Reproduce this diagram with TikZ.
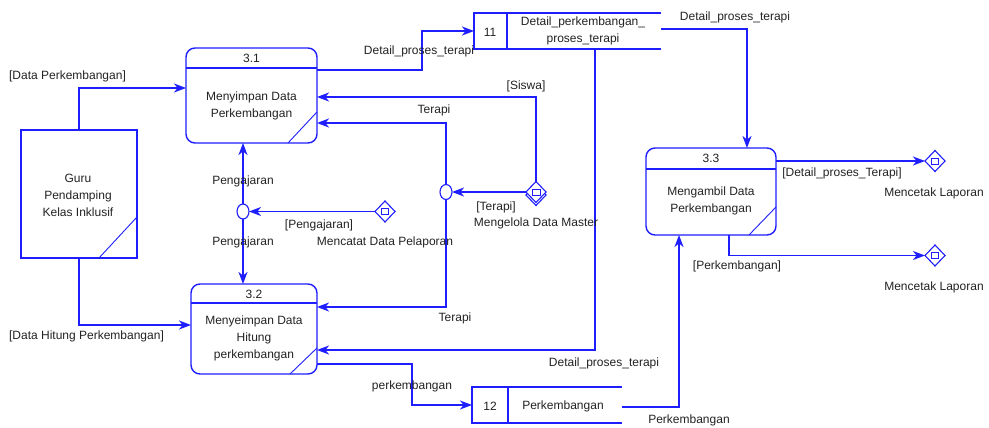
\documentclass[tikz,border=0pt]{standalone}
\usepackage{fontspec}
\setmainfont{Liberation Sans}
\usetikzlibrary{arrows.meta,shapes.geometric,calc}

\definecolor{dfdblue}{RGB}{30,30,255}
\definecolor{dfdtext}{RGB}{35,35,35}

\begin{document}
\begin{tikzpicture}[x=1pt,y=-1pt,
  bline/.style={draw=dfdblue,line width=1.4pt},
  thinline/.style={draw=dfdblue,line width=0.9pt},
  flow/.style={bline,-{Stealth[length=12pt,width=9pt,inset=3.5pt]}},
  proc/.style={rectangle,draw=dfdblue,line width=1.4pt,rounded corners=9pt,inner sep=0pt,outer sep=0pt},
  extent/.style={rectangle,draw=dfdblue,line width=1.4pt,inner sep=0pt,outer sep=0pt},
  storebox/.style={rectangle,draw=none,inner sep=0pt,outer sep=0pt},
  junc/.style={ellipse,draw=dfdblue,line width=1.1pt,fill=white,minimum width=12pt,minimum height=15pt,inner sep=0pt,outer sep=0pt},
  evt/.style={diamond,draw=dfdblue,line width=1.1pt,fill=white,minimum width=20pt,minimum height=21pt,inner sep=0pt,outer sep=0pt},
  evtbox/.style={rectangle,draw=dfdblue,line width=1pt,minimum width=7pt,minimum height=6pt,inner sep=0pt},
  lbl/.style={text=dfdtext,font=\fontsize{12}{17}\selectfont,inner sep=0pt,align=center}]

\useasboundingbox[fill=white] (0,0) rectangle (989,428);

% external entity
\node[extent,minimum width=116pt,minimum height=128pt] (guru) at (79,194) {};
\draw[thinline] ([xshift=-38pt]guru.south east) -- ([yshift=41pt]guru.south east);
\node[lbl] (gurut) at (78,195) {Guru\\Pendamping\\Kelas Inklusif};

% process 3.1
\node[proc,minimum width=131pt,minimum height=95pt] (p31) at (251.5,95.5) {};
\draw[bline] ([yshift=-20pt]p31.north west) -- ([yshift=-20pt]p31.north east);
\draw[thinline] ([xshift=-29pt]p31.south east) -- ([yshift=31pt]p31.south east);
\node[lbl] (p31n) at (251.5,58) {3.1};
\node[lbl] (p31t) at (251.5,106) {Menyimpan Data\\Perkembangan};

% process 3.2
\node[proc,minimum width=126pt,minimum height=90pt] (p32) at (254,329) {};
\draw[bline] ([yshift=-19pt]p32.north west) -- ([yshift=-19pt]p32.north east);
\draw[thinline] ([xshift=-27pt]p32.south east) -- ([yshift=26pt]p32.south east);
\node[lbl] (p32n) at (254,294) {3.2};
\node[lbl] (p32t) at (254,338.5) {Menyeimpan Data\\Hitung\\perkembangan};

% process 3.3
\node[proc,minimum width=130pt,minimum height=87pt] (p33) at (711,191.5) {};
\draw[bline] ([yshift=-21pt]p33.north west) -- ([yshift=-21pt]p33.north east);
\draw[thinline] ([xshift=-27pt]p33.south east) -- ([yshift=28pt]p33.south east);
\node[lbl] (p33n) at (711,158) {3.3};
\node[lbl] (p33t) at (711,201) {Mengambil Data\\Perkembangan};

% data store 11
\node[storebox,minimum width=187pt,minimum height=36pt] (s11) at (567.5,31) {};
\draw[bline] (s11.north east) -- (s11.north west) -- (s11.south west) -- (s11.south east);
\draw[bline] ([xshift=33pt]s11.north west) -- ([xshift=33pt]s11.south west);
\node[lbl] (s11n) at (490,32) {11};
\node[lbl] (s11t) at (583,31) {Detail\_perkembangan\_\\proses\_terapi};

% data store 12
\node[storebox,minimum width=150pt,minimum height=36pt] (s12) at (547,405) {};
\draw[bline] (s12.north east) -- (s12.north west) -- (s12.south west) -- (s12.south east);
\draw[bline] ([xshift=36pt]s12.north west) -- ([xshift=36pt]s12.south west);
\node[lbl] (s12n) at (490,406) {12};
\node[lbl] (s12t) at (563,406) {Perkembangan};

% junctions
\node[junc] (j1) at (243,211.5) {};
\node[junc] (j2) at (446,192) {};

% events
\node[evt] (d1) at (385,211.5) {};
\node[evtbox] (d1b) at (d1) {};
\node[evt] (d2b) at (536,195) {};
\node[evt] (d2) at (536,192) {};
\node[evtbox,minimum width=8pt] (d2x) at (d2) {};
\node[evt] (d3) at (935,161) {};
\node[evtbox] (d3b) at (d3) {};
\node[evt] (d4) at (935,255.5) {};
\node[evtbox] (d4b) at (d4) {};

% flows
\draw[flow] (guru.north) |- ([yshift=7.5pt]p31.west);
\draw[flow] (guru.south) |- ([yshift=4pt]p32.west);
\draw[flow] (j1.north) -- (j1 |- p31.south);
\draw[flow] (j1.south) -- (j1 |- p32.north);
\draw[flow] (d1.west) -- (j1.east);
\draw[flow] (j2.north) |- ([yshift=-27.5pt]p31.east);
\draw[flow] (j2.south) |- ([yshift=22pt]p32.east);
\draw[flow] (d2.north) |- ([yshift=-1.5pt]p31.east);
\draw[flow] (d2.west) -- (j2.east);
\draw[flow] ([yshift=25.5pt]p31.east) -| ([xshift=-52pt]s11.west) -- (s11.west);
\draw[flow] ([yshift=2pt]s11.east) -| ([xshift=36pt]p33.north);
\draw[flow] ([xshift=27.5pt]s11.south) |- ([yshift=-21pt]p32.east);
\draw[flow] ([yshift=-35pt]p32.east) -| ([xshift=-60pt]s12.west) -- (s12.west);
\draw[flow] ([yshift=-2pt]s12.east) -| ([xshift=-32pt]p33.south);
\draw[flow] (p33.east |- d3.west) -- (d3.west);
\draw[flow] ([xshift=18pt]p33.south) |- (d4.west);

% labels
\node[lbl] (l1) at (67.5,76) {[Data Perkembangan]};
\node[lbl] (l2) at (86.5,336) {[Data Hitung Perkembangan]};
\node[lbl] (l3) at (243,181) {Pengajaran};
\node[lbl] (l4) at (243,242) {Pengajaran};
\node[lbl] (l5) at (319,225) {[Pengajaran]};
\node[lbl] (l6) at (385,242) {Mencatat Data Pelaporan};
\node[lbl] (l7) at (434,110.5) {Terapi};
\node[lbl] (l8) at (455,318) {Terapi};
\node[lbl] (l9) at (526,86) {[Siswa]};
\node[lbl] (l10) at (496,207) {[Terapi]};
\node[lbl] (l11) at (536,223.5) {Mengelola Data Master};
\node[lbl] (l12) at (419,51.5) {Detail\_proses\_terapi};
\node[lbl] (l13) at (735,17) {Detail\_proses\_terapi};
\node[lbl] (l14) at (604,363) {Detail\_proses\_terapi};
\node[lbl] (l15) at (412,386) {perkembangan};
\node[lbl] (l16) at (689,420) {Perkembangan};
\node[lbl] (l17) at (842,173) {[Detail\_proses\_Terapi]};
\node[lbl] (l18) at (934,193) {Mencetak Laporan};
\node[lbl] (l19) at (737,266.5) {[Perkembangan]};
\node[lbl] (l20) at (934,287) {Mencetak Laporan};
\end{tikzpicture}
\end{document}
